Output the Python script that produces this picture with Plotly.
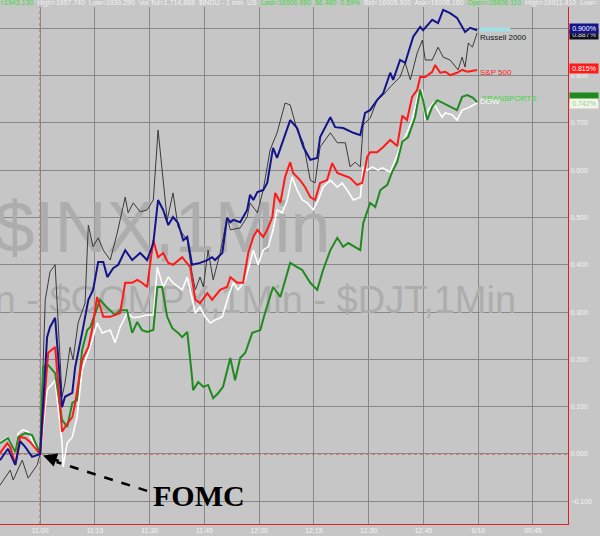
import plotly.graph_objects as go

# minutes after 11:00 and % change
russell_t = [-11, -9.6, -8.2, -7.4, -6.0, -4.9, -3.3, -1.9, -0.8, 0, 1.4, 2.7, 4.1, 6.0, 6.8, 8.2, 9.0, 10.4, 12.3, 13.2,
             14.5, 15.9, 17.3, 19.2, 21.1, 23.3, 24.1, 25.5, 27.4, 29.3, 31.0, 32.3, 33.7, 34.8, 36.4, 37.8, 38.9, 40.3,
             41.6, 42.5, 43.8, 44.7, 46.0, 47.4, 49.3, 51.2, 52.1, 54.8, 56.7, 57.5, 59.5, 61.1, 63.0, 64.9, 67.1, 68.5,
             70.4, 72.1, 74.0, 75.3, 76.7, 79.5, 81.4, 83.6, 84.9, 86.3, 87.7, 88.5, 90.4, 92.3, 94.0, 95.9, 98.6, 100.0,
             101.4, 103.3, 104.7, 105.5, 107.4, 109.0, 110.4, 112.3, 114.5, 115.6, 116.4, 117.3, 118.4, 119.7]
russell_v = [-0.066, -0.051, -0.034, -0.055, -0.030, -0.013, -0.051, -0.034, -0.023, 0, 0.326, 0.385, 0.400, 0.121,
             0.150, 0.226, 0.199, 0.277, 0.319, 0.484, 0.438, 0.457, 0.431, 0.410, 0.467, 0.543, 0.510, 0.531, 0.512,
             0.516, 0.537, 0.685, 0.586, 0.495, 0.552, 0.480, 0.467, 0.452, 0.383, 0.347, 0.374, 0.353, 0.431, 0.368,
             0.425, 0.499, 0.474, 0.478, 0.501, 0.531, 0.510, 0.558, 0.643, 0.679, 0.742, 0.738, 0.685, 0.658, 0.579,
             0.573, 0.649, 0.679, 0.658, 0.658, 0.607, 0.617, 0.607, 0.696, 0.710, 0.748, 0.759, 0.776, 0.797, 0.827,
             0.791, 0.848, 0.875, 0.833, 0.833, 0.860, 0.839, 0.833, 0.812, 0.839, 0.818, 0.869, 0.860, 0.890]

nasdaq_t = [-11, -8.8, -6.8, -5.5, -4.1, -2.2, 0, 1.9, 2.7, 4.1, 6.0, 6.8, 8.8, 9.6, 11.5, 13.2, 14.5, 15.9, 17.3, 18.4,
            20.0, 21.4, 23.3, 25.2, 27.4, 29.3, 31.0, 32.3, 33.7, 35.1, 36.4, 37.8, 39.2, 40.3, 41.6, 43.8, 45.8, 47.1,
            47.9, 49.9, 51.2, 52.1, 52.9, 54.8, 56.7, 57.5, 58.4, 59.5, 61.1, 62.2, 63.8, 64.9, 68.5, 70.4, 72.1, 74.0,
            75.9, 76.7, 79.5, 80.8, 83.0, 85.8, 87.7, 89.0, 90.4, 92.3, 94.0, 95.9, 96.7, 98.6, 100.0, 102.2, 104.1,
            104.9, 107.4, 109.0, 110.4, 112.3, 114.2, 115.6, 116.4, 117.8, 119.7]
nasdaq_v = [-0.013, 0.011, -0.023, 0.027, 0.015, -0.006, 0, 0.247, 0.268, 0.288, 0.099, 0.121, 0.129, 0.184, 0.256,
            0.326, 0.347, 0.406, 0.406, 0.374, 0.393, 0.400, 0.431, 0.410, 0.425, 0.410, 0.446, 0.537, 0.516, 0.484,
            0.501, 0.488, 0.452, 0.459, 0.400, 0.404, 0.410, 0.416, 0.410, 0.425, 0.499, 0.490, 0.495, 0.490, 0.516,
            0.548, 0.537, 0.554, 0.558, 0.573, 0.647, 0.626, 0.706, 0.689, 0.649, 0.622, 0.626, 0.670, 0.712, 0.691,
            0.689, 0.679, 0.674, 0.721, 0.727, 0.748, 0.763, 0.806, 0.791, 0.833, 0.827, 0.882, 0.903, 0.896, 0.918,
            0.911, 0.939, 0.932, 0.922, 0.903, 0.892, 0.901, 0.896]

spx_t = [-11, -9.0, -8.2, -6.8, -5.5, -4.1, -2.7, -0.8, 0, 2.2, 4.1, 6.0, 6.8, 8.8, 9.6, 11.5, 13.2, 14.2, 15.6, 17.3,
         19.2, 21.9, 23.3, 25.2, 26.6, 27.9, 29.3, 31.0, 32.3, 33.7, 35.1, 36.4, 38.9, 41.1, 42.5, 43.8, 45.8, 47.1,
         49.3, 51.2, 52.1, 54.0, 55.6, 57.0, 58.4, 59.5, 61.1, 62.2, 63.6, 64.4, 65.8, 67.1, 68.5, 69.3, 71.2, 72.6,
         74.0, 75.3, 76.7, 78.6, 80.0, 81.4, 83.0, 84.9, 86.8, 88.2, 89.6, 90.4, 92.3, 94.0, 95.9, 97.8, 99.2, 100.5,
         101.9, 103.3, 104.1, 105.5, 107.4, 108.2, 109.6, 111.0, 112.3, 114.2, 115.6, 117.0, 119.7]
spx_v = [0.002, 0.023, 0.015, -0.023, 0.036, 0.034, 0.025, 0.008, 0, 0.214, 0.226, 0.047, 0.057, 0.078, 0.108, 0.199,
         0.226, 0.262, 0.332, 0.290, 0.290, 0.298, 0.362, 0.362, 0.368, 0.362, 0.353, 0.452, 0.416, 0.425, 0.404,
         0.400, 0.416, 0.395, 0.326, 0.319, 0.340, 0.326, 0.347, 0.353, 0.374, 0.362, 0.362, 0.425, 0.459, 0.474,
         0.459, 0.474, 0.501, 0.552, 0.531, 0.586, 0.617, 0.594, 0.579, 0.564, 0.543, 0.537, 0.573, 0.579, 0.615,
         0.594, 0.590, 0.584, 0.569, 0.573, 0.628, 0.638, 0.638, 0.649, 0.664, 0.651, 0.715, 0.706, 0.755, 0.770,
         0.797, 0.797, 0.808, 0.822, 0.806, 0.808, 0.801, 0.806, 0.812, 0.808, 0.812]

dow_t = [-11, -8.8, -6.8, -6.0, -4.7, -3.3, -1.6, 0, 1.9, 4.1, 6.0, 6.3, 7.4, 8.8, 10.1, 11.5, 13.7, 15.6, 17.0, 19.2,
         20.5, 21.9, 23.8, 25.5, 27.4, 29.3, 31.0, 32.1, 33.7, 35.1, 36.4, 38.9, 40.3, 41.6, 42.5, 43.8, 45.2, 46.6,
         47.9, 49.9, 51.5, 52.9, 54.2, 56.2, 58.4, 59.7, 61.1, 62.5, 63.8, 64.9, 66.3, 67.7, 69.0, 70.4, 71.8, 73.2,
         74.8, 76.2, 77.5, 79.5, 81.4, 82.7, 84.1, 85.8, 87.7, 88.5, 89.6, 91.0, 92.6, 93.7, 95.9, 97.8, 98.6, 100.5,
         101.9, 103.6, 104.7, 105.5, 106.3, 107.7, 109.0, 110.1, 111.0, 112.9, 114.2, 115.6, 117.3, 119.7]
dow_v = [0.025, 0.036, 0.004, 0.044, 0.051, 0.047, 0.019, 0, 0.135, 0.156, 0.023, -0.027, 0.023, 0.036, 0.078, 0.178,
         0.226, 0.277, 0.256, 0.262, 0.235, 0.268, 0.298, 0.288, 0.290, 0.294, 0.294, 0.395, 0.353, 0.374, 0.362,
         0.347, 0.374, 0.332, 0.298, 0.311, 0.290, 0.277, 0.283, 0.290, 0.332, 0.362, 0.347, 0.368, 0.431, 0.400,
         0.431, 0.438, 0.474, 0.516, 0.510, 0.537, 0.586, 0.558, 0.537, 0.531, 0.516, 0.537, 0.564, 0.579, 0.564,
         0.573, 0.558, 0.537, 0.543, 0.607, 0.600, 0.607, 0.600, 0.605, 0.596, 0.632, 0.649, 0.679, 0.706, 0.763,
         0.770, 0.706, 0.727, 0.742, 0.727, 0.712, 0.721, 0.717, 0.706, 0.727, 0.732, 0.742]

trans_t = [-11, -8.8, -6.8, -6.0, -4.1, -2.2, -0.8, 0, 0.8, 2.2, 4.1, 6.0, 7.4, 8.8, 10.1, 11.5, 12.9, 13.7, 15.1, 16.4,
           18.4, 20.5, 21.9, 23.8, 25.2, 26.6, 27.9, 29.3, 31.0, 32.1, 33.4, 34.8, 36.2, 37.8, 38.9, 40.3, 41.6, 41.9,
           43.3, 44.7, 46.0, 47.4, 48.8, 50.1, 52.1, 53.4, 54.8, 56.2, 58.1, 60.3, 61.6, 63.8, 65.8, 68.5, 70.4, 71.8,
           74.0, 75.9, 77.5, 79.5, 81.4, 83.0, 84.4, 86.3, 87.7, 88.5, 90.4, 91.8, 93.2, 95.1, 96.4, 97.8, 99.2, 100.8,
           102.7, 104.1, 104.9, 106.0, 107.4, 108.8, 110.4, 112.3, 114.2, 115.6, 117.0, 118.6, 119.7]
trans_v = [0.023, 0.034, 0.004, 0.036, 0.044, 0.040, 0.015, 0, 0.184, 0.188, 0.171, 0.072, 0.057, 0.108, 0.114, 0.220,
           0.262, 0.268, 0.298, 0.326, 0.309, 0.294, 0.304, 0.304, 0.256, 0.279, 0.262, 0.258, 0.262, 0.353, 0.353,
           0.290, 0.266, 0.256, 0.247, 0.258, 0.163, 0.135, 0.152, 0.142, 0.146, 0.118, 0.129, 0.142, 0.203, 0.156,
           0.203, 0.214, 0.256, 0.262, 0.298, 0.353, 0.332, 0.404, 0.395, 0.389, 0.362, 0.347, 0.389, 0.431, 0.457,
           0.438, 0.446, 0.438, 0.431, 0.488, 0.531, 0.522, 0.558, 0.569, 0.596, 0.617, 0.660, 0.670, 0.712, 0.770,
           0.748, 0.706, 0.734, 0.748, 0.742, 0.734, 0.727, 0.755, 0.759, 0.753, 0.744]

tick_mins = [0, 15, 30, 45, 60, 75, 90, 105, 120, 135]
tick_labels = ["11:00", "11:15", "11:30", "11:45", "12:00", "12:15", "12:30", "12:45", "6/19", "00:45"]
y_ticks = [-0.1, 0, 0.1, 0.2, 0.3, 0.4, 0.5, 0.6, 0.7, 0.8, 0.9]

BG = "#c6c6c6"
fig = go.Figure()

# watermark behind the lines
fig.add_trace(go.Scatter(x=[-12.5], y=[0.465], mode="text", text=["$INX,1Min"], textposition="middle right",
                         textfont=dict(family="Liberation Sans", size=72, color="#adadad"),
                         hoverinfo="skip", showlegend=False))
fig.add_trace(go.Scatter(x=[-12.5], y=[0.318], mode="text", text=["n - $COMPX,1Min - $DJT,1Min"],
                         textposition="middle right",
                         textfont=dict(family="Liberation Sans", size=38, color="#adadad"),
                         hoverinfo="skip", showlegend=False))

series = [
    ("Russell 2000", russell_t, russell_v, "#3a3a3a", 1),
    ("DOW", dow_t, dow_v, "#ffffff", 1.6),
    ("TRANSPORTS", trans_t, trans_v, "#1f8a1f", 2),
    ("S&P 500", spx_t, spx_v, "#ff1a1a", 2),
    ("Nasdaq", nasdaq_t, nasdaq_v, "#14148a", 2),
]
for name, t, v, col, w in series:
    fig.add_trace(go.Scatter(x=t, y=v, mode="lines", name=name, line=dict(color=col, width=w),
                             showlegend=False))

# red dotted reference lines at 11:00 and 0%
fig.add_shape(type="line", xref="x", yref="paper", x0=0, x1=0, y0=0, y1=1,
              line=dict(color="#e02020", width=1, dash="dot"), layer="between")
fig.add_shape(type="line", xref="paper", yref="y", x0=0, x1=1, y0=0, y1=0,
              line=dict(color="#e02020", width=1, dash="dot"), layer="between")

# FOMC dashed arrow
fig.add_shape(type="line", xref="x", yref="y", x0=29.3, y0=-0.078, x1=4.5, y1=-0.017,
              line=dict(color="black", width=2.5, dash="dash"))
fig.add_annotation(x=0.8, y=-0.003, ax=5.5, ay=-0.016, axref="x", ayref="y", xref="x", yref="y",
                   text="", showarrow=True, arrowhead=2, arrowsize=1.1, arrowwidth=2.5, arrowcolor="black")
fig.add_annotation(x=43.6, y=-0.088, xref="x", yref="y", text="<b>FOMC</b>", showarrow=False,
                   font=dict(family="Liberation Serif", size=30, color="black"))

# line labels at the end of the series
fig.add_annotation(x=119.7, y=0.897, xref="x", yref="y", text="", showarrow=False, width=30, height=3,
                   bgcolor="#9fe0e8", xanchor="left", xshift=2, borderpad=0)
fig.add_annotation(x=119.7, y=0.880, xref="x", yref="y", text="Russell 2000", showarrow=False,
                   xanchor="left", xshift=1, font=dict(family="Liberation Sans", size=8, color="#111111"))
fig.add_annotation(x=119.7, y=0.806, xref="x", yref="y", text="S&P 500", showarrow=False,
                   xanchor="left", xshift=1, font=dict(family="Liberation Sans", size=8, color="#ff2020"))
fig.add_annotation(x=119.7, y=0.751, xref="x", yref="y", text="TRANSPORTS", showarrow=False,
                   xanchor="left", xshift=3, font=dict(family="Liberation Sans", size=8, color="#3fd63f"))
fig.add_annotation(x=119.7, y=0.746, xref="x", yref="y", text="DOW", showarrow=False,
                   xanchor="left", xshift=1, font=dict(family="Liberation Sans", size=8, color="#ffffff"))

# value boxes on the right axis
def value_box(val, txt, bg, fg):
    fig.add_annotation(x=1, y=val, xref="paper", yref="y", text=txt, showarrow=False, xanchor="left",
                       xshift=1, bgcolor=bg, borderpad=0, width=28, height=9,
                       font=dict(family="Liberation Sans", size=7, color=fg))

value_box(0.887, "0.887%", "#101020", "#dddddd")
value_box(0.900, "0.900%", "#14148a", "#ffffff")
value_box(0.815, "0.815%", "#ff1a1a", "#ffffff")
value_box(0.754, "", "#1f8a1f", "#ffffff")
value_box(0.742, "0.742%", "#f4f4ea", "#8ad88a")

# quote header across the top
header = ("<span style='color:#3fd63f'>=1943.130</span>  High=1957.740  Low=1939.290  Vol Tot=1,714,888  "
          "$INDU - 1 min  US  <span style='color:#3fd63f'>Last=16906.980  86.480  0.59%</span>  "
          "Bid=16905.920  Ask=16908.160  <span style='color:#3fd63f'>Open=16806.110</span>  High=16911.410  Low=")
fig.add_annotation(x=0, y=1, xref="paper", yref="paper", text=header, showarrow=False, xanchor="left",
                   yanchor="bottom", xshift=-2, yshift=-2,
                   font=dict(family="Liberation Sans", size=7, color="#f2f2f2"))

fig.update_xaxes(range=[-11, 144.6], tickvals=tick_mins, ticktext=tick_labels, showgrid=True,
                 gridcolor="#888888", gridwidth=1, zeroline=False, showline=True, linecolor="#e02020",
                 linewidth=1, ticks="", tickfont=dict(family="Liberation Sans", size=7, color="#f4f4f4"))
fig.update_yaxes(range=[-0.148, 0.945], side="right", tickvals=y_ticks, tickformat=".3f", ticksuffix="%",
                 showgrid=True, gridcolor="#888888", gridwidth=1, zeroline=False, showline=True,
                 linecolor="#e02020", linewidth=1, ticks="",
                 tickfont=dict(family="Liberation Sans", size=7, color="#f4f4f4"))
fig.update_layout(width=600, height=536, margin=dict(l=0, r=32, t=7, b=12),
                  paper_bgcolor=BG, plot_bgcolor=BG, showlegend=False)

# page body has a default 8px margin; drop it so the chart fills the window
fig.write_html("out.html", config={"displayModeBar": False},
               post_script="document.body.style.margin='0';")
